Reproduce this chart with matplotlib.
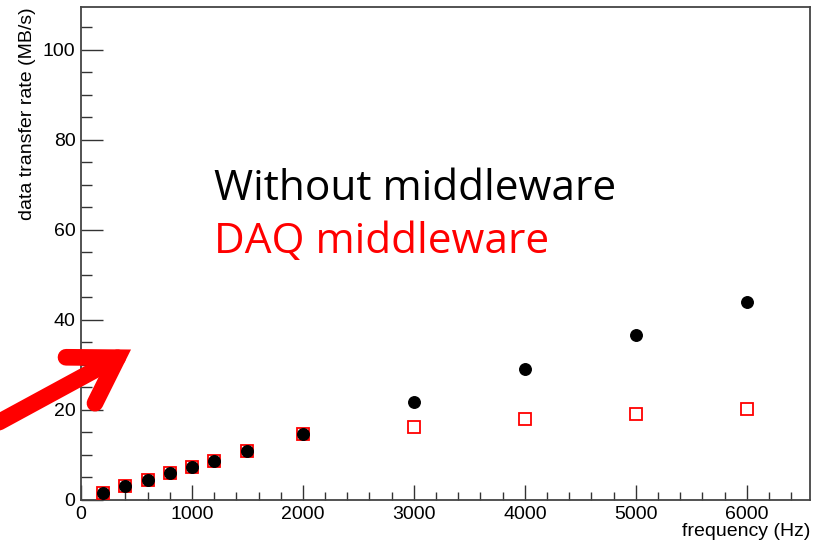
import matplotlib
matplotlib.use("Agg")
import matplotlib.pyplot as plt
from matplotlib.lines import Line2D

# frequency points (Hz) and measured transfer rates (MB/s)
freq = [200, 400, 600, 800, 1000, 1200, 1500, 2000, 3000, 4000, 5000, 6000]
rate_direct = [1.6, 3.0, 4.4, 5.9, 7.3, 8.7, 10.8, 14.6, 21.8, 29.1, 36.7, 43.9]
rate_daq = [1.6, 3.0, 4.4, 5.9, 7.3, 8.7, 10.8, 14.6, 16.3, 18.1, 19.0, 20.2]

label_direct = "Without middleware"
label_daq = "DAQ middleware"

plt.rcParams["font.family"] = ["Liberation Sans", "DejaVu Sans"]

fig = plt.figure(figsize=(8.25, 5.47), dpi=100)
ax = fig.add_axes([81 / 825, 47 / 547, 729 / 825, 493 / 547])

ax.plot(freq, rate_daq, linestyle="none", marker="s", markersize=8,
        markerfacecolor="white", markeredgecolor="red", markeredgewidth=1.3,
        zorder=3)
ax.plot(freq, rate_direct, linestyle="none", marker="o", markersize=8.3,
        color="black", zorder=4)

ax.set_xlim(0, 6570)
ax.set_ylim(0, 109.5)
ax.set_xticks(range(0, 7000, 1000))
ax.set_xticks(range(0, 6600, 200), minor=True)
ax.set_yticks(range(0, 101, 20))
ax.set_yticks(range(0, 110, 5), minor=True)

ax.tick_params(axis="both", which="both", direction="in", width=1.0,
               color="#333333", labelsize=14, top=False, right=False)
ax.tick_params(axis="y", which="major", length=16, pad=4)
ax.tick_params(axis="y", which="minor", length=8)
ax.tick_params(axis="x", which="major", length=11, pad=4)
ax.tick_params(axis="x", which="minor", length=5.5)

for s in ax.spines.values():
    s.set_color("#444444")
    s.set_linewidth(1.3)

ax.set_ylabel("data transfer rate (MB/s)", fontsize=14, loc="top", labelpad=5)
ax.set_xlabel("frequency (Hz)", fontsize=14, loc="right", labelpad=0)

fig.text(214 / 825, (547 - 200) / 547, label_direct, fontsize=30.5,
         family=["Open Sans", "DejaVu Sans"], color="black", va="baseline")
fig.text(214 / 825, (547 - 253) / 547, label_daq, fontsize=30.5,
         family=["Open Sans", "DejaVu Sans"], color="red", va="baseline")

# thick red pointer arrow (data coordinates, allowed to leave the frame)
vertex = (330, 31.6)
arm_upper = (-135, 31.7)
arm_lower = (126, 21.5)
tail = (-1000, 13.8)
red_lw = 12
shaft = Line2D([tail[0], vertex[0]], [tail[1], vertex[1]], color="red",
               linewidth=red_lw, solid_capstyle="round", clip_on=False,
               zorder=5)
head = Line2D([arm_upper[0], vertex[0], arm_lower[0]],
              [arm_upper[1], vertex[1], arm_lower[1]], color="red",
              linewidth=red_lw, solid_capstyle="round",
              solid_joinstyle="miter", clip_on=False, zorder=5)
ax.add_line(shaft)
ax.add_line(head)

fig.savefig("out.png", dpi=100)
